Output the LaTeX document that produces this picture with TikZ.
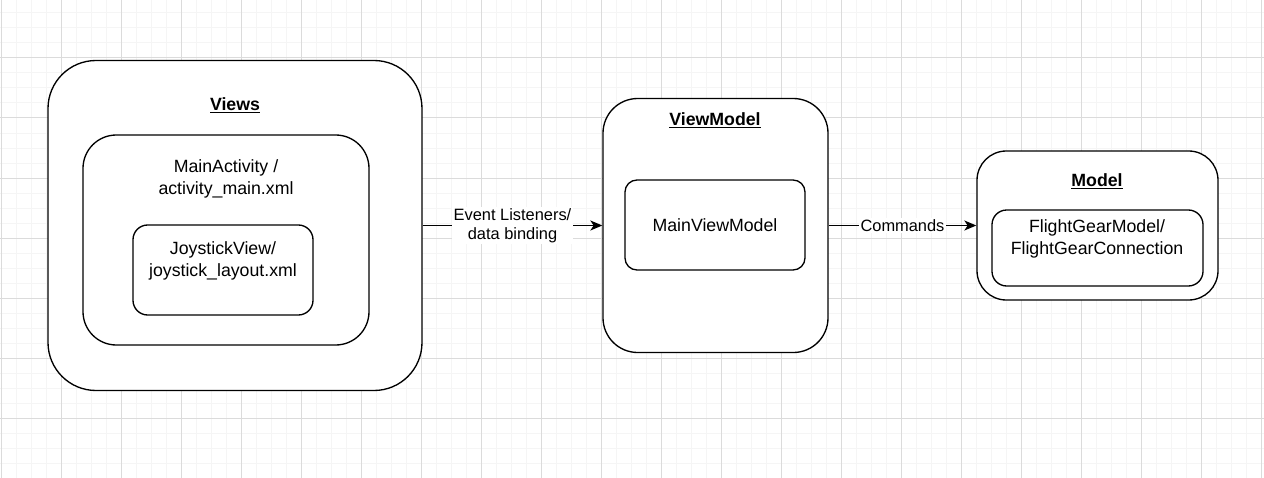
\documentclass[tikz,border=0pt]{standalone}
\usepackage{fontspec}
\setmainfont{Liberation Sans}
\usetikzlibrary{positioning,arrows.meta}
\tikzset{
    gridminor/.style={draw=black!4, line width=0.75pt},
    gridmajor/.style={draw=black!14, line width=0.75pt},
    layerbox/.style={draw, rounded corners=#1, fill=white, line width=1pt, inner sep=0pt},
    layertitle/.style={font=\fontsize{13.3}{16.5}\selectfont\bfseries, align=center},
    layertext/.style={font=\fontsize{13.3}{16.5}\selectfont, align=center},
    flowarrow/.style={draw, line width=1pt, -{Stealth[length=9pt, width=7.5pt, inset=2.5pt]}},
    flowlabel/.style={font=\fontsize{12.3}{14.5}\selectfont, align=center, fill=white, inner sep=1pt}
}
\begin{document}
\begin{tikzpicture}[x=0.75pt, y=-0.75pt]
    \fill[white] (0,0) rectangle (1264,478);
    \useasboundingbox (0,0) rectangle (1264,478);
    % grid
    \foreach \gx in {1,16,...,1261} \draw[gridminor] (\gx,0) -- (\gx,478);
    \foreach \gy in {13,28,...,478} \draw[gridminor] (0,\gy) -- (1264,\gy);
    \foreach \gx in {1,61,...,1261} \draw[gridmajor] (\gx,0) -- (\gx,478);
    \foreach \gy in {58,118,...,478} \draw[gridmajor] (0,\gy) -- (1264,\gy);

    % views
    \node[layerbox=36pt, minimum width=280.5pt, minimum height=247.5pt] (views) at (235,225.5) {};
    \node[layertitle] (viewstitle) at (235,105) {\underline{Views}};
    \node[layerbox=25pt, minimum width=214.5pt, minimum height=157.5pt] (mainact) at (226,240) {};
    \node[layertext] (mainacttext) at (226,179) {MainActivity /\\activity\_main.xml};
    \node[layerbox=11pt, minimum width=135pt, minimum height=67.5pt] (joystick) at (223,270) {};
    \node[layertext] (joysticktext) at (223,261) {JoystickView/\\joystick\_layout.xml};

    % viewmodel
    \node[layerbox=26pt, minimum width=168.75pt, minimum height=190.5pt] (vm) at (715.5,225.5) {};
    \node[layertitle] (vmtitle) at (715,120) {\underline{ViewModel}};
    \node[layerbox=9pt, minimum width=135pt, minimum height=67.5pt, layertext] (mainvm) at (715,225) {MainViewModel};

    % model
    \node[layerbox=22pt, minimum width=180.75pt, minimum height=111.75pt] (model) at (1097.5,225.5) {};
    \node[layertitle] (modeltitle) at (1097,181) {\underline{Model}};
    \node[layerbox=11pt, minimum width=158.25pt, minimum height=57pt] (fgmodel) at (1097.5,248) {};
    \node[layertext] (fgtext) at (1097,239) {FlightGearModel/\\FlightGearConnection};

    % connectors
    \draw[flowarrow] (views.east) -- node[flowlabel] {Event Listeners/\\data binding} (vm.west);
    \draw[flowarrow] (vm.east) -- node[flowlabel] {Commands} (model.west);
\end{tikzpicture}
\end{document}
